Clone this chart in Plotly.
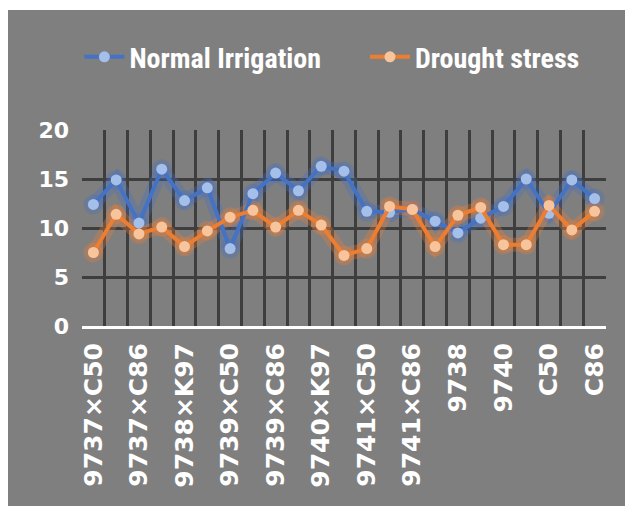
import plotly.graph_objects as go

categories = [
    "9737×C50", "9737×K97", "9737×C86",
    "9738×C50", "9738×K97", "9738×C86",
    "9739×C50", "9739×K97", "9739×C86",
    "9740×C50", "9740×K97", "9740×C86",
    "9741×C50", "9741×K97", "9741×C86",
    "9737", "9738", "9739", "9740", "9741", "C50", "K97", "C86",
]
normal_irrigation = [12.4, 14.9, 10.5, 16.0, 12.8, 14.1, 7.9, 13.5, 15.6, 13.8, 16.3, 15.8,
                     11.7, 11.6, 11.9, 10.7, 9.5, 11.0, 12.2, 15.0, 11.5, 14.9, 13.0]
drought_stress = [7.5, 11.4, 9.4, 10.1, 8.1, 9.7, 11.1, 11.8, 10.1, 11.8, 10.3, 7.2,
                  7.9, 12.2, 11.9, 8.1, 11.3, 12.1, 8.3, 8.3, 12.3, 9.8, 11.7]
y_ticks = [0, 5, 10, 15, 20]

tick_text = [c if i % 2 == 0 else "" for i, c in enumerate(categories)]

BLUE = "#4472C4"
ORANGE = "#ED7D31"
GREY = "#7F7F7F"
GRID = "#3E3E3E"

fig = go.Figure()

# soft glow under the lines
for vals, col in [(normal_irrigation, "rgba(68,114,196,0.30)"), (drought_stress, "rgba(237,125,49,0.30)")]:
    fig.add_trace(go.Scatter(x=categories, y=vals, mode="lines+markers",
                             line=dict(color=col, width=14),
                             marker=dict(size=20, color=col),
                             showlegend=False, hoverinfo="skip"))

fig.add_trace(go.Scatter(x=categories, y=normal_irrigation, mode="lines+markers",
                         name="Normal Irrigation", legend="legend",
                         line=dict(color=BLUE, width=4),
                         marker=dict(size=11, color="#A3BFEA", line=dict(width=0))))
fig.add_trace(go.Scatter(x=categories, y=drought_stress, mode="lines+markers",
                         name="Drought stress", legend="legend2",
                         line=dict(color=ORANGE, width=4),
                         marker=dict(size=11, color="#F8C49C", line=dict(width=0))))

# thin white strip along the top (page margin supplies the rest of the frame)
fig.add_shape(type="rect", xref="paper", yref="paper", x0=-0.3, x1=1.3, y0=1.612, y1=1.7,
              fillcolor="white", line=dict(width=0), layer="below")

legend_font = dict(family="Liberation Sans Narrow, Roboto Condensed, Liberation Sans", size=28,
                   color="white", weight="bold")

fig.update_layout(
    width=633, height=506,
    margin=dict(l=74, r=35, t=122, b=188),
    paper_bgcolor=GREY,
    plot_bgcolor=GREY,
    font=dict(family="DejaVu Sans", color="white"),
    showlegend=True,
    legend=dict(orientation="h", x=-0.005, y=1.372, xanchor="left", yanchor="middle",
                bgcolor="rgba(0,0,0,0)", font=legend_font, itemwidth=40),
    legend2=dict(orientation="h", x=0.54, y=1.372, xanchor="left", yanchor="middle",
                 bgcolor="rgba(0,0,0,0)", font=legend_font, itemwidth=40),
)

fig.update_xaxes(
    type="category",
    categoryorder="array", categoryarray=categories,
    tickmode="array", tickvals=categories, ticktext=tick_text,
    tickson="boundaries",
    tickangle=-90,
    tickfont=dict(family="DejaVu Sans", size=25, color="white", weight="bold"),
    showgrid=True, gridcolor=GRID, gridwidth=2.5,
    showline=True, linecolor="white", linewidth=3,
    ticks="", ticklabelstandoff=4,
    range=[-0.5, len(categories) - 0.5],
)
fig.update_yaxes(
    range=[0, 20], tickmode="array", tickvals=y_ticks,
    tickfont=dict(family="DejaVu Sans", size=22, color="white", weight="bold"),
    showgrid=True, gridcolor=GRID, gridwidth=2.5,
    zeroline=False, showline=False, ticks="", ticklabelstandoff=12,
)

fig.write_html("out.html")
